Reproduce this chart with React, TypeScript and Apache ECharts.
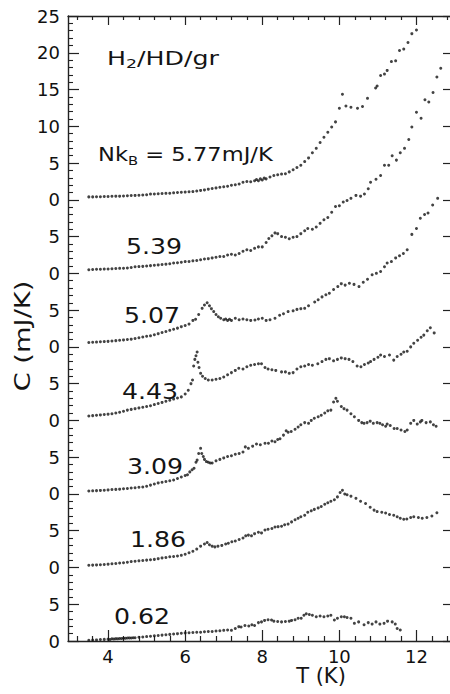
import React, { useEffect, useRef } from "react";
import * as echarts from "echarts";

// ---- data: [T (K), C (mJ/K) relative to each curve's own zero] ----
const curveNames = ["5.77", "5.39", "5.07", "4.43", "3.09", "1.86", "0.62"];
const curveOffsets = [0, -10, -20, -30, -40, -50, -60];

const curve577: number[][] = [
  [3.5,0.40],[3.6,0.40],[3.7,0.42],[3.8,0.42],[3.9,0.45],[4.0,0.45],[4.1,0.48],[4.2,0.50],[4.3,0.50],[4.4,0.52],
  [4.5,0.55],[4.6,0.58],[4.7,0.60],[4.8,0.62],[4.9,0.65],[5.0,0.70],[5.1,0.78],[5.2,0.80],[5.3,0.82],[5.4,0.85],
  [5.5,0.88],[5.6,0.90],[5.7,0.95],[5.8,1.00],[5.9,1.02],[6.0,1.05],[6.1,1.10],[6.2,1.12],[6.3,1.20],[6.4,1.28],
  [6.5,1.35],[6.6,1.45],[6.7,1.55],[6.8,1.62],[6.9,1.72],[7.0,1.78],[7.1,1.85],[7.2,1.98],[7.3,2.05],[7.4,2.15],
  [7.5,2.40],[7.6,2.50],[7.7,2.45],[7.8,2.60],[7.85,2.75],[7.9,2.60],[7.95,2.85],[8.0,2.70],[8.05,2.95],[8.1,2.85],
  [8.2,3.10],[8.3,3.30],[8.4,3.40],[8.5,3.50],[8.6,3.55],[8.7,3.80],[8.8,4.10],[8.9,4.40],[9.0,4.70],[9.1,5.20],
  [9.2,5.70],[9.3,6.40],[9.4,7.00],[9.5,7.80],[9.6,8.50],[9.7,9.20],[9.8,9.90],[9.9,10.60],[10.0,12.45],[10.08,14.35],
  [10.17,12.76],[10.3,12.60],[10.47,12.45],[10.6,12.70],[10.73,13.80],[10.94,15.20],[10.98,15.48],[11.07,16.90],
  [11.17,17.10],[11.24,17.60],[11.35,18.80],[11.46,18.90],[11.56,20.30],[11.67,20.50],[11.78,21.40],[11.88,22.60],[12.0,23.10]
];

const curve539: number[][] = [
  [3.5,0.50],[3.6,0.52],[3.7,0.55],[3.8,0.55],[3.9,0.58],[4.0,0.60],[4.1,0.62],[4.2,0.65],[4.3,0.68],[4.4,0.70],
  [4.5,0.72],[4.6,0.80],[4.7,0.90],[4.8,0.92],[4.9,0.95],[5.0,1.00],[5.1,1.05],[5.2,1.10],[5.3,1.15],[5.4,1.20],
  [5.5,1.25],[5.6,1.30],[5.7,1.40],[5.8,1.45],[5.9,1.50],[6.0,1.60],[6.1,1.62],[6.2,1.70],[6.3,1.75],[6.4,1.85],
  [6.5,1.95],[6.6,2.00],[6.7,2.10],[6.8,2.20],[6.9,2.30],[7.0,2.30],[7.1,2.50],[7.2,2.60],[7.3,2.50],[7.4,2.70],
  [7.5,3.00],[7.6,3.20],[7.7,3.10],[7.8,3.40],[7.9,3.60],[8.0,3.60],[8.1,4.20],[8.17,4.75],[8.25,5.10],[8.33,5.50],
  [8.4,5.40],[8.5,5.00],[8.6,4.90],[8.7,4.70],[8.8,4.90],[8.9,5.00],[9.0,5.40],[9.1,5.80],[9.18,6.10],[9.3,6.00],
  [9.4,6.30],[9.5,6.80],[9.6,7.30],[9.7,7.60],[9.8,8.30],[9.9,9.10],[10.0,9.20],[10.1,9.70],[10.2,9.90],[10.3,10.20],
  [10.43,10.60],[10.55,10.50],[10.65,10.80],[10.75,11.50],[10.81,12.40],[10.95,12.80],[11.07,13.30],[11.17,14.70],
  [11.28,14.70],[11.37,16.00],[11.48,15.40],[11.58,16.40],[11.69,17.00],[11.8,18.20],[11.88,19.90],[12.0,21.90],
  [12.12,21.10],[12.22,23.60],[12.32,23.30],[12.43,24.60],[12.53,26.70],[12.63,27.90]
];

const curve507: number[][] = [
  [3.5,0.60],[3.6,0.62],[3.7,0.65],[3.8,0.70],[3.9,0.72],[4.0,0.75],[4.1,0.80],[4.2,0.85],[4.3,0.90],[4.4,0.95],
  [4.5,1.00],[4.6,1.05],[4.7,1.15],[4.8,1.25],[4.9,1.35],[5.0,1.45],[5.1,1.50],[5.2,1.65],[5.3,1.80],[5.4,1.95],
  [5.5,2.10],[5.6,2.25],[5.7,2.40],[5.8,2.55],[5.9,2.75],[6.0,2.90],[6.1,3.10],[6.2,3.60],[6.27,3.75],[6.35,4.40],
  [6.44,5.24],[6.5,5.70],[6.57,6.00],[6.63,5.60],[6.68,5.20],[6.74,4.80],[6.8,4.40],[6.86,4.10],[6.92,3.90],[7.0,3.70],
  [7.05,3.80],[7.1,3.60],[7.15,3.75],[7.2,3.60],[7.3,3.90],[7.4,3.70],[7.5,3.80],[7.6,3.70],[7.7,3.60],[7.81,3.66],
  [7.9,3.80],[8.0,3.90],[8.1,3.60],[8.2,3.70],[8.33,3.90],[8.45,4.30],[8.55,4.50],[8.67,4.80],[8.8,4.90],[8.9,5.10],
  [9.0,5.20],[9.1,5.24],[9.2,5.60],[9.36,6.10],[9.45,6.40],[9.55,6.80],[9.65,7.10],[9.74,7.30],[9.85,7.80],[9.96,8.20],
  [10.05,8.60],[10.15,8.40],[10.26,8.65],[10.38,8.50],[10.51,8.20],[10.62,8.80],[10.73,9.20],[10.85,9.80],[10.96,10.00],
  [11.07,10.25],[11.17,10.90],[11.24,11.40],[11.35,11.60],[11.46,12.10],[11.56,12.40],[11.66,12.70],[11.76,13.20],
  [11.88,15.30],[12.0,16.10],[12.1,17.50],[12.21,18.00],[12.3,18.20],[12.42,19.30],[12.55,20.20]
];

const curve443: number[][] = [
  [3.5,0.60],[3.6,0.65],[3.7,0.70],[3.8,0.75],[3.9,0.80],[4.0,0.85],[4.1,0.90],[4.2,1.00],[4.3,1.10],[4.4,1.25],
  [4.5,1.40],[4.6,1.50],[4.7,1.60],[4.8,1.70],[4.9,1.80],[5.0,1.90],[5.1,2.00],[5.2,2.15],[5.3,2.30],[5.4,2.45],
  [5.5,2.60],[5.6,2.75],[5.7,2.90],[5.8,3.05],[5.9,3.20],[6.0,3.60],[6.08,4.10],[6.15,5.00],[6.19,5.50],[6.22,7.40],
  [6.25,8.30],[6.28,8.80],[6.31,9.30],[6.33,7.90],[6.36,7.20],[6.4,6.40],[6.45,6.00],[6.52,5.70],[6.6,5.50],[6.7,5.50],
  [6.8,5.60],[6.9,5.70],[7.0,5.90],[7.1,6.20],[7.2,6.50],[7.3,6.80],[7.39,7.10],[7.5,7.00],[7.6,7.30],[7.7,7.50],
  [7.8,7.60],[7.9,7.70],[7.98,7.70],[8.07,7.20],[8.15,7.00],[8.25,6.90],[8.35,6.80],[8.5,6.60],[8.6,6.60],[8.7,6.40],
  [8.8,6.50],[8.9,7.00],[9.0,7.30],[9.1,7.40],[9.2,7.60],[9.3,7.50],[9.44,7.70],[9.55,8.00],[9.65,8.30],[9.74,8.40],
  [9.85,8.10],[9.95,8.30],[10.05,8.50],[10.15,8.40],[10.25,8.30],[10.35,8.00],[10.46,7.40],[10.56,7.30],[10.65,7.60],
  [10.75,7.80],[10.81,8.00],[10.9,8.30],[11.0,8.60],[11.07,8.90],[11.17,8.70],[11.3,8.90],[11.41,8.20],[11.5,8.70],
  [11.6,9.00],[11.67,9.30],[11.76,9.40],[11.85,10.00],[11.93,10.50],[12.03,10.90],[12.12,11.30],[12.19,11.60],
  [12.28,12.20],[12.36,12.60],[12.46,11.90]
];

const curve309: number[][] = [
  [3.5,0.40],[3.6,0.42],[3.7,0.45],[3.8,0.48],[3.9,0.50],[4.0,0.55],[4.1,0.60],[4.2,0.62],[4.3,0.65],[4.4,0.70],
  [4.5,0.75],[4.6,0.80],[4.7,0.85],[4.8,0.90],[4.9,0.95],[5.0,1.05],[5.1,1.20],[5.2,1.35],[5.3,1.50],[5.4,1.60],
  [5.5,1.70],[5.6,1.80],[5.7,1.90],[5.8,2.10],[5.9,2.30],[6.0,2.50],[6.06,2.60],[6.12,3.00],[6.18,3.30],[6.23,3.50],
  [6.28,4.30],[6.31,4.60],[6.35,5.50],[6.4,6.20],[6.43,5.50],[6.47,5.10],[6.5,4.70],[6.55,4.40],[6.6,4.30],[6.65,4.20],
  [6.7,4.20],[6.8,4.50],[6.9,4.70],[7.0,4.90],[7.1,5.10],[7.2,5.20],[7.3,5.40],[7.4,5.50],[7.5,5.70],[7.56,6.40],
  [7.64,6.20],[7.75,6.50],[7.85,6.80],[7.95,6.70],[8.07,6.90],[8.16,6.90],[8.25,7.20],[8.33,7.10],[8.4,7.40],[8.46,7.50],
  [8.55,8.00],[8.62,8.60],[8.67,8.40],[8.75,8.50],[8.85,8.80],[8.93,9.10],[9.0,9.40],[9.1,9.70],[9.2,9.60],[9.27,10.00],
  [9.35,10.30],[9.45,10.50],[9.53,10.70],[9.62,11.00],[9.7,11.30],[9.78,11.40],[9.85,12.50],[9.91,13.00],[9.95,12.60],
  [10.05,11.90],[10.12,11.60],[10.2,11.40],[10.3,10.90],[10.39,10.50],[10.5,10.00],[10.58,9.70],[10.64,9.60],[10.72,9.70],
  [10.8,9.90],[10.88,9.60],[10.98,9.70],[11.05,9.60],[11.12,9.40],[11.2,9.20],[11.24,9.50],[11.32,9.30],[11.42,8.90],
  [11.5,8.90],[11.6,8.70],[11.7,8.50],[11.76,8.70],[11.85,9.60],[11.93,10.00],[12.02,9.50],[12.1,9.80],[12.14,10.00],
  [12.25,9.70],[12.36,9.80],[12.44,9.40],[12.51,9.20]
];

const curve186: number[][] = [
  [3.5,0.30],[3.6,0.32],[3.7,0.35],[3.8,0.38],[3.9,0.40],[4.0,0.45],[4.1,0.50],[4.2,0.55],[4.3,0.60],[4.4,0.65],
  [4.5,0.72],[4.6,0.80],[4.7,0.85],[4.8,0.90],[4.9,0.95],[5.0,1.00],[5.1,1.05],[5.2,1.10],[5.3,1.20],[5.4,1.30],
  [5.5,1.35],[5.6,1.45],[5.7,1.50],[5.8,1.55],[5.9,1.65],[6.0,1.80],[6.1,2.00],[6.2,2.20],[6.3,2.50],[6.4,2.90],
  [6.5,3.20],[6.57,3.40],[6.63,3.10],[6.7,2.90],[6.77,2.80],[6.85,2.90],[6.95,3.00],[7.05,3.20],[7.12,3.30],[7.21,3.50],
  [7.3,3.60],[7.4,3.80],[7.5,4.00],[7.57,4.30],[7.64,4.40],[7.72,4.30],[7.8,4.60],[7.9,4.80],[7.98,4.70],[8.07,5.10],
  [8.15,5.20],[8.25,5.30],[8.33,5.50],[8.41,5.55],[8.5,5.60],[8.58,5.80],[8.67,5.90],[8.76,6.20],[8.85,6.50],[8.93,6.70],
  [9.0,6.90],[9.1,7.10],[9.18,7.50],[9.27,7.70],[9.35,7.90],[9.45,8.10],[9.53,8.30],[9.62,8.60],[9.7,8.80],[9.78,9.00],
  [9.87,9.20],[9.95,9.60],[10.02,10.20],[10.08,10.50],[10.14,10.00],[10.2,9.90],[10.3,9.70],[10.43,9.40],[10.55,9.00],
  [10.68,8.70],[10.8,8.20],[10.9,7.80],[10.98,7.60],[11.1,7.50],[11.2,7.40],[11.3,7.20],[11.41,7.10],[11.5,6.90],
  [11.58,6.70],[11.67,6.55],[11.75,6.60],[11.85,6.80],[11.93,6.90],[12.05,6.80],[12.15,6.70],[12.27,6.80],[12.4,7.00],[12.53,7.45]
];

const curve062: number[][] = [
  [3.5,0.10],[3.6,0.12],[3.7,0.15],[3.8,0.20],[3.9,0.22],[4.0,0.25],[4.05,0.20],[4.1,0.30],[4.15,0.28],[4.2,0.32],
  [4.25,0.30],[4.3,0.33],[4.35,0.35],[4.4,0.38],[4.45,0.36],[4.5,0.40],[4.55,0.42],[4.6,0.40],[4.65,0.45],[4.7,0.45],
  [4.8,0.50],[4.9,0.55],[5.0,0.60],[5.1,0.65],[5.2,0.70],[5.3,0.75],[5.4,0.80],[5.5,0.85],[5.6,0.90],[5.7,0.95],
  [5.8,1.00],[5.9,1.05],[6.0,1.10],[6.1,1.12],[6.2,1.15],[6.3,1.18],[6.4,1.20],[6.5,1.25],[6.6,1.30],[6.7,1.30],
  [6.8,1.35],[6.9,1.40],[7.0,1.45],[7.1,1.50],[7.2,1.45],[7.3,1.70],[7.39,1.95],[7.45,1.90],[7.55,2.10],[7.65,2.05],
  [7.73,2.20],[7.8,2.10],[7.9,2.50],[7.98,2.60],[8.06,2.80],[8.15,2.90],[8.24,2.86],[8.3,2.70],[8.4,2.65],[8.5,2.60],
  [8.6,2.65],[8.7,2.70],[8.76,2.80],[8.85,2.90],[8.93,3.10],[9.01,3.10],[9.08,3.50],[9.14,3.70],[9.22,3.60],[9.3,3.50],
  [9.4,3.30],[9.5,3.40],[9.6,3.30],[9.7,3.40],[9.78,3.50],[9.87,2.86],[9.95,3.10],[10.05,3.30],[10.13,3.30],[10.2,3.20],
  [10.3,3.10],[10.39,2.40],[10.5,2.60],[10.64,2.20],[10.75,2.50],[10.85,2.30],[10.95,2.60],[11.05,2.30],[11.16,2.40],
  [11.25,2.70],[11.37,2.60],[11.45,2.30],[11.5,1.70],[11.58,1.50]
];

const curves = [curve577, curve539, curve507, curve443, curve309, curve186, curve062];

// axis ticks and labels
const xMin = 2.96;
const xMax = 12.87;
const xMajorTicks = [4, 6, 8, 10, 12];
const xMinorTicks = [3.2, 3.6, 4.4, 4.8, 5.2, 5.6, 6.4, 6.8, 7.2, 7.6, 8.4, 8.8, 9.2, 9.6, 10.4, 10.8, 11.2, 11.6, 12.4, 12.8];
const yMin = -60;
const yMax = 25;
const yTickLabels = ["0", "5", "0", "5", "0", "5", "0", "5", "0", "5", "0", "5", "0", "5", "10", "15", "20", "25"];

// annotation texts
const titleText = "H{s|2}/HD/gr";
const nkText = "Nk{s|B} = 5.77mJ/K";
const xTitle = "T (K)";
const yTitle = "C (mJ/K)";

const FONT = "DejaVu Sans";
const INK = "#141414";

export default function App() {
  const ref = useRef<HTMLDivElement>(null);
  useEffect(() => {
    if (!ref.current) return;
    const chart = echarts.init(ref.current, null, { renderer: "svg" });

    const axisLineStyle = { color: "#222", width: 1.4 };
    const mkX = (position: string, values: number[], len: number, showLine: boolean, labels: boolean) => ({
      type: "value",
      position,
      min: xMin,
      max: xMax,
      axisLine: { show: showLine, onZero: false, lineStyle: axisLineStyle },
      axisTick: { show: true, inside: true, length: len, customValues: values, lineStyle: { color: "#222", width: 1.2 } },
      axisLabel: labels
        ? { show: true, customValues: values, fontSize: 18, lineHeight: 14, color: "#111", fontFamily: FONT, margin: 8 }
        : { show: false },
      splitLine: { show: false },
    });

    const curveLabelPos = [
      null,
      [126, 246],
      [124, 315],
      [122, 391],
      [127, 466],
      [130, 539],
      [114, 616],
    ];

    const graphics: any[] = [
      {
        type: "text",
        x: 107,
        y: 58,
        scaleX: 1.33,
        style: {
          text: titleText,
          fontFamily: FONT,
          fontSize: 19,
          fill: INK,
          align: "left",
          verticalAlign: "middle",
          textAlign: "left",
          textVerticalAlign: "middle",
          rich: { s: { fontSize: 13, fontFamily: FONT, fill: INK, padding: [12, 0, 0, 0] } },
        },
      },
      {
        type: "text",
        x: 98,
        y: 154,
        scaleX: 1.13,
        style: {
          text: nkText,
          fontFamily: FONT,
          fontSize: 20,
          fill: INK,
          align: "left",
          verticalAlign: "middle",
          textAlign: "left",
          textVerticalAlign: "middle",
          rich: { s: { fontSize: 13, fontFamily: FONT, fill: INK, padding: [12, 0, 0, 0] } },
        },
      },
      {
        type: "text",
        x: 321,
        y: 676,
        style: {
          text: xTitle,
          fontFamily: FONT,
          fontSize: 21,
          lineHeight: 17,
          fill: INK,
          align: "center",
          verticalAlign: "middle",
          textAlign: "center",
          textVerticalAlign: "middle",
        },
      },
      {
        type: "text",
        x: 23,
        y: 336,
        rotation: Math.PI / 2,
        scaleX: 1.3,
        style: {
          text: yTitle,
          fontFamily: FONT,
          fontSize: 21,
          fill: INK,
          align: "center",
          verticalAlign: "middle",
          textAlign: "center",
          textVerticalAlign: "middle",
        },
      },
    ];
    curveNames.forEach((name, i) => {
      const p = curveLabelPos[i];
      if (!p) return;
      graphics.push({
        type: "text",
        x: p[0],
        y: p[1],
        scaleX: 1.2,
        style: {
          text: name,
          fontFamily: FONT,
          fontSize: 21,
          fill: INK,
          align: "left",
          verticalAlign: "middle",
          textAlign: "left",
          textVerticalAlign: "middle",
        },
      });
    });

    const option: any = {
      animation: false,
      backgroundColor: "#fff",
      grid: { left: 68, right: -3, top: 16, bottom: 53, containLabel: false },
      xAxis: [
        mkX("bottom", xMajorTicks, 11, true, true),
        mkX("bottom", xMinorTicks, 5, false, false),
        mkX("top", xMajorTicks, 9, true, false),
        mkX("top", xMinorTicks, 4, false, false),
      ],
      yAxis: [
        {
          type: "value",
          position: "left",
          min: yMin,
          max: yMax,
          interval: 5,
          axisLine: { show: true, onZero: false, lineStyle: axisLineStyle },
          axisTick: { show: true, inside: true, length: 11, lineStyle: { color: "#222", width: 1.2 } },
          minorTick: { show: true, splitNumber: 5, length: 5, lineStyle: { color: "#222", width: 1.1 } },
          axisLabel: {
            fontSize: 18,
            color: "#111",
            fontFamily: FONT,
            margin: 8,
            formatter: (v: number) => yTickLabels[Math.round((v - yMin) / 5)],
          },
          splitLine: { show: false },
        },
        {
          type: "value",
          position: "right",
          min: yMin,
          max: yMax,
          interval: 5,
          axisLine: { show: false },
          axisTick: { show: true, inside: true, length: 7, lineStyle: { color: "#222", width: 1.2 } },
          axisLabel: { show: false },
          splitLine: { show: false },
        },
      ],
      series: curves.map((pts, i) => ({
        type: "scatter",
        name: curveNames[i],
        xAxisIndex: 0,
        yAxisIndex: 0,
        symbol: "circle",
        symbolSize: 3,
        itemStyle: { color: INK },
        silent: true,
        data: pts.map((p) => [p[0], p[1] + curveOffsets[i]]),
      })),
      graphic: graphics,
    };
    chart.setOption(option);
    return () => chart.dispose();
  }, []);
  return (
    <div
      ref={ref}
      style={{ position: "fixed", left: 0, top: 0, width: 450, height: 694, background: "#fff" }}
    />
  );
}
